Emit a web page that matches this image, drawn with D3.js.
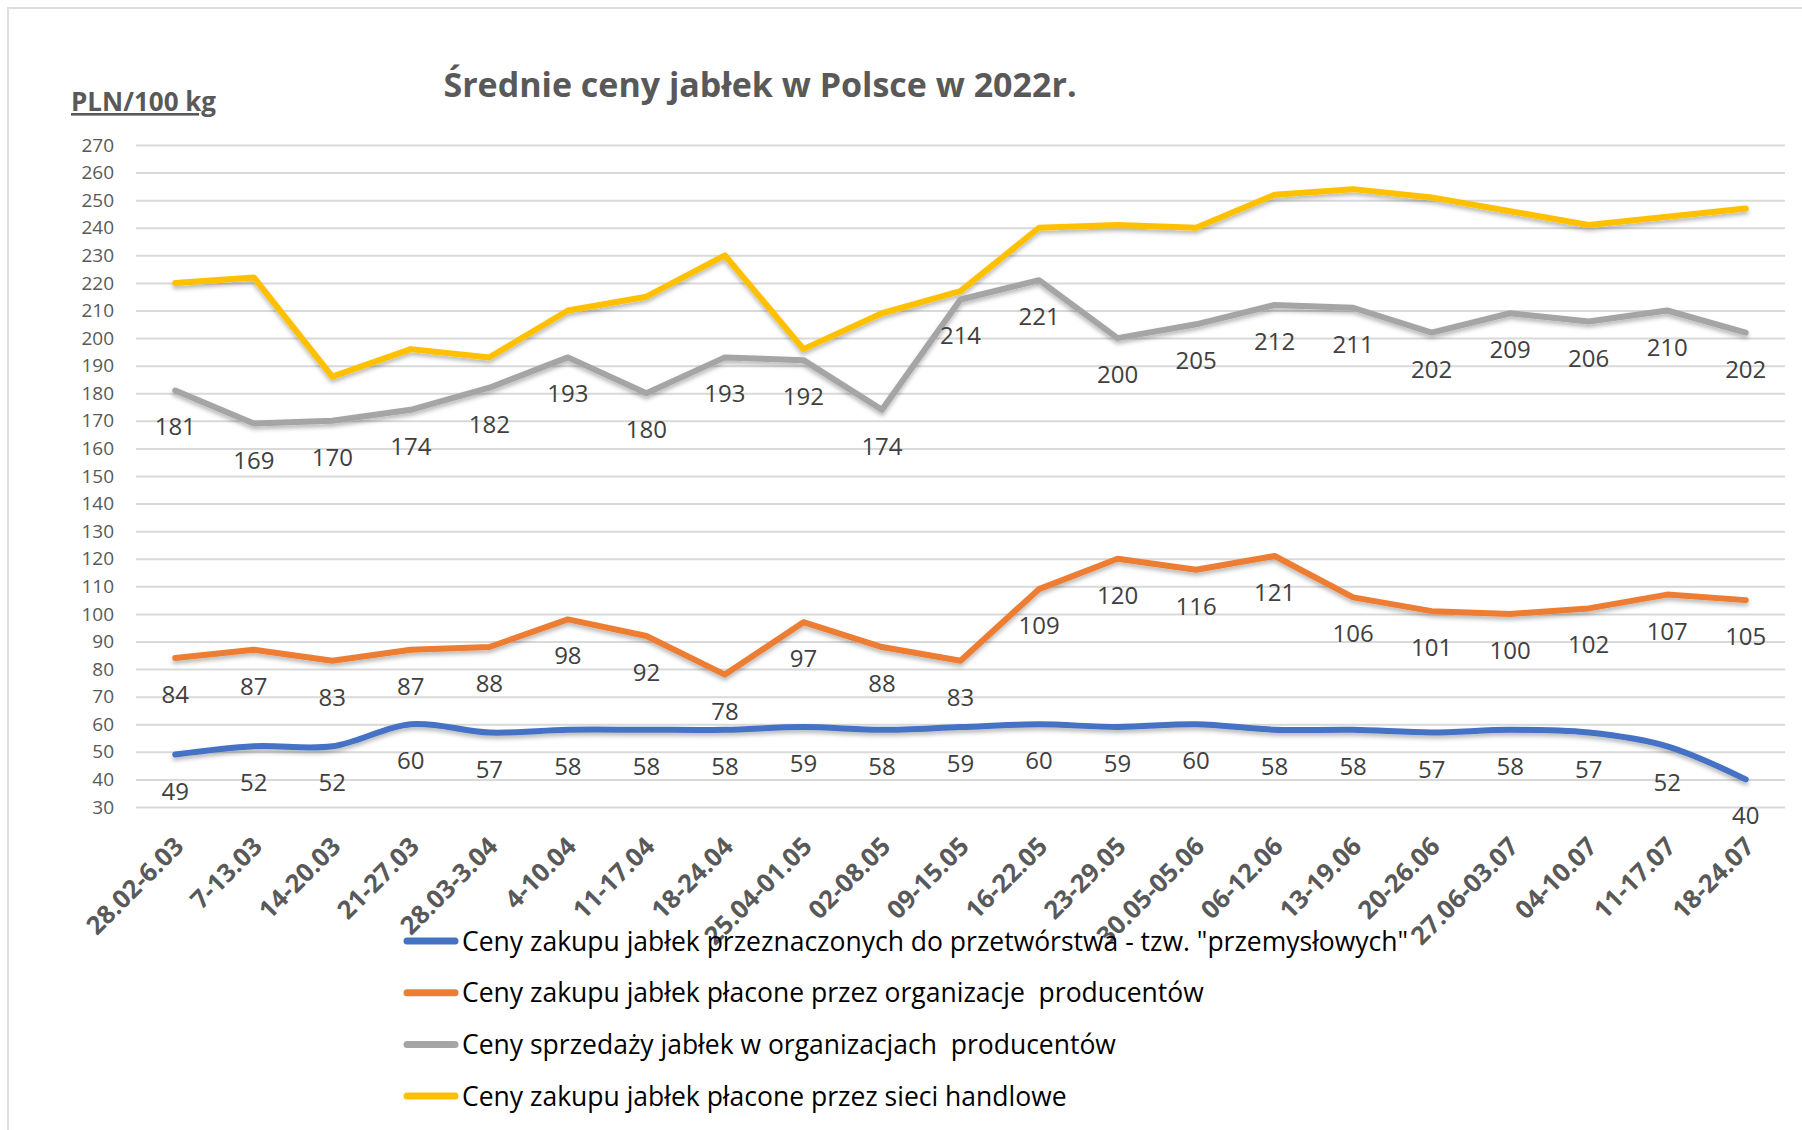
<!DOCTYPE html>
<html lang="pl">
<head>
<meta charset="utf-8">
<title>Średnie ceny jabłek w Polsce w 2022r.</title>
<script src="https://cdn.jsdelivr.net/npm/d3@7"></script>
<style>
  html, body { margin: 0; padding: 0; background: #fff; }
  svg { display: block; font-family: "Open Sans", sans-serif; }
</style>
</head>
<body>
<div id="chart"></div>
<script>
// weeks of 2022 (x axis)
const weeks = ["28.02-6.03", "7-13.03", "14-20.03", "21-27.03", "28.03-3.04", "4-10.04",
  "11-17.04", "18-24.04", "25.04-01.05", "02-08.05", "09-15.05", "16-22.05", "23-29.05",
  "30.05-05.06", "06-12.06", "13-19.06", "20-26.06", "27.06-03.07", "04-10.07", "11-17.07", "18-24.07"];

// PLN/100 kg
const przemyslowe = [49, 52, 52, 60, 57, 58, 58, 58, 59, 58, 59, 60, 59, 60, 58, 58, 57, 58, 57, 52, 40];
const organizacjeZakup = [84, 87, 83, 87, 88, 98, 92, 78, 97, 88, 83, 109, 120, 116, 121, 106, 101, 100, 102, 107, 105];
const organizacjeSprzedaz = [181, 169, 170, 174, 182, 193, 180, 193, 192, 174, 214, 221, 200, 205, 212, 211, 202, 209, 206, 210, 202];
// no labels in the original
const sieciHandlowe = [220, 222, 186, 196, 193, 210, 215, 230, 196, 209, 217, 240, 241, 240, 252, 254, 251, 246, 241, 244, 247];

const yTicks = d3.range(30, 271, 10);

const seriesNames = [
  "Ceny zakupu jabłek przeznaczonych do przetwórstwa - tzw. \"przemysłowych\"",
  "Ceny zakupu jabłek płacone przez organizacje  producentów",
  "Ceny sprzedaży jabłek w organizacjach  producentów",
  "Ceny zakupu jabłek płacone przez sieci handlowe"
];
const seriesColors = ["#4472C4", "#ED7D31", "#A5A5A5", "#FFC000"];

const series = [
  { name: seriesNames[0], color: seriesColors[0], values: przemyslowe, smooth: true, labels: true },
  { name: seriesNames[1], color: seriesColors[1], values: organizacjeZakup, smooth: false, labels: true },
  { name: seriesNames[2], color: seriesColors[2], values: organizacjeSprzedaz, smooth: false, labels: true },
  { name: seriesNames[3], color: seriesColors[3], values: sieciHandlowe, smooth: false, labels: false }
];

const W = 1802, H = 1130;
const plot = { left: 136, right: 1785, top: 145, bottom: 807 };

const svg = d3.select("#chart").append("svg")
  .attr("width", W)
  .attr("height", H);

// soft shadow under the lines, like the Excel original
const shadow = svg.append("defs").append("filter")
  .attr("id", "shadow")
  .attr("x", "-5%").attr("y", "-20%")
  .attr("width", "110%").attr("height", "140%");
shadow.append("feDropShadow")
  .attr("dx", 0).attr("dy", 3)
  .attr("stdDeviation", 2)
  .attr("flood-color", "#000")
  .attr("flood-opacity", 0.28);

// chart frame
svg.append("rect")
  .attr("x", 8).attr("y", 8)
  .attr("width", W + 20).attr("height", H + 20)
  .attr("fill", "none")
  .attr("stroke", "#dedede")
  .attr("stroke-width", 2);

const x = d3.scaleBand()
  .domain(weeks)
  .range([plot.left, plot.right]);

const y = d3.scaleLinear()
  .domain([30, 270])
  .range([plot.bottom, plot.top]);

const cx = (i) => x(weeks[i]) + x.bandwidth() / 2;

// gridlines + y labels
const yAxis = svg.append("g")
  .attr("transform", `translate(${plot.left},0)`)
  .call(d3.axisLeft(y).tickValues(yTicks).tickSize(-(plot.right - plot.left)).tickPadding(22));
yAxis.select(".domain").remove();
yAxis.selectAll(".tick line")
  .attr("stroke", "#d9d9d9")
  .attr("stroke-width", 2);
yAxis.selectAll(".tick text")
  .attr("fill", "#595959")
  .style("font-size", "19px")
  .style("font-family", "'Open Sans', sans-serif");

// x labels, rotated
const xAxis = svg.append("g")
  .attr("transform", `translate(0,${plot.bottom})`)
  .call(d3.axisBottom(x).tickSize(0).tickPadding(0));
xAxis.select(".domain").remove();
xAxis.selectAll(".tick text")
  .attr("fill", "#595959")
  .attr("y", 0)
  .attr("dy", 0)
  .attr("text-anchor", "end")
  .attr("transform", "translate(10,41) rotate(-45)")
  .style("font-size", "25.5px")
  .style("font-weight", "bold")
  .style("font-family", "'Open Sans', sans-serif");

// lines
const straight = d3.line()
  .x((d, i) => cx(i))
  .y((d) => y(d));
const smooth = d3.line()
  .x((d, i) => cx(i))
  .y((d) => y(d))
  .curve(d3.curveCatmullRom.alpha(0.5));

svg.append("g")
  .attr("filter", "url(#shadow)")
  .selectAll("path")
  .data(series)
  .join("path")
  .attr("d", (s) => (s.smooth ? smooth : straight)(s.values))
  .attr("fill", "none")
  .attr("stroke", (s) => s.color)
  .attr("stroke-width", 6)
  .attr("stroke-linejoin", "round")
  .attr("stroke-linecap", "round");

// data labels below the points
const labelGroups = svg.append("g")
  .selectAll("g")
  .data(series.filter((s) => s.labels))
  .join("g");

labelGroups.selectAll("text")
  .data((s) => s.values)
  .join("text")
  .attr("x", (d, i) => cx(i))
  .attr("y", (d) => y(d) + 45)
  .attr("text-anchor", "middle")
  .attr("fill", "#404040")
  .style("font-size", "24px")
  .text((d) => d);

// title
svg.append("text")
  .attr("x", 760)
  .attr("y", 97)
  .attr("text-anchor", "middle")
  .attr("fill", "#595959")
  .style("font-size", "34px")
  .style("font-weight", "bold")
  .text("Średnie ceny jabłek w Polsce w 2022r.");

// unit
svg.append("text")
  .attr("x", 71)
  .attr("y", 111)
  .attr("fill", "#595959")
  .style("font-size", "26px")
  .style("font-weight", "bold")
  .style("text-decoration", "underline")
  .text("PLN/100 kg");

// legend
const legend = svg.append("g")
  .attr("transform", "translate(404,941)");
const items = legend.selectAll("g")
  .data(series)
  .join("g")
  .attr("transform", (d, i) => `translate(0,${i * 51.7})`);
items.append("line")
  .attr("x1", 3).attr("x2", 51)
  .attr("stroke", (d) => d.color)
  .attr("stroke-width", 7)
  .attr("stroke-linecap", "round");
items.append("text")
  .attr("x", 58)
  .attr("y", 9.5)
  .attr("fill", "#000")
  .style("font-size", "26.5px")
  .style("white-space", "pre")
  .text((d) => d.name);
</script>
</body>
</html>
